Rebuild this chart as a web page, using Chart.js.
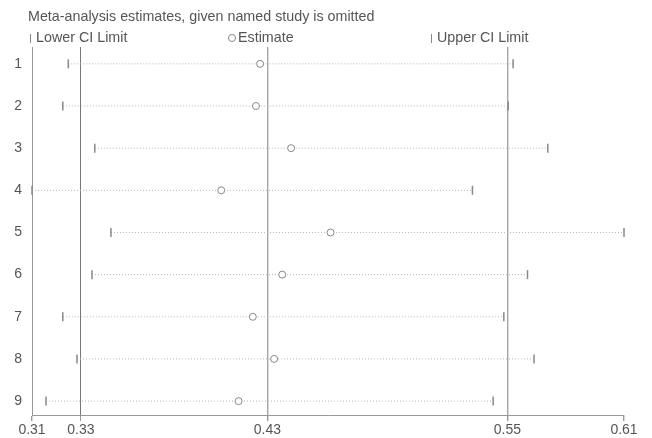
<!DOCTYPE html>
<html>
<head>
<meta charset="utf-8">
<script src="https://cdn.jsdelivr.net/npm/chart.js@4.4.1/dist/chart.umd.min.js"></script>
<style>
  body { margin: 0; background: #fff; }
  #wrap { position: relative; width: 652px; height: 438px; font-family: "Liberation Sans", Arial, sans-serif; color: #555; font-size: 14.3px; }
  #title { position: absolute; left: 28px; top: 8px; white-space: nowrap; }
  .leg { position: absolute; top: 29px; white-space: nowrap; line-height: 16px; }
  .bar { display: inline-block; width: 0; height: 9px; border-left: 1.5px solid #888; margin-right: 5px; vertical-align: -1px; }
  .ring { display: inline-block; width: 6px; height: 6px; border: 1px solid #888; border-radius: 50%; margin-right: 2px; vertical-align: 0px; }
  canvas { position: absolute; left: 0; top: 0; }
</style>
</head>
<body>
<div id="wrap">
  <canvas id="chart" width="652" height="438"></canvas>
  <div id="title">Meta-analysis estimates, given named study is omitted</div>
  <div class="leg" style="left:30px"><span class="bar"></span>Lower CI Limit</div>
  <div class="leg" style="left:228px"><span class="ring"></span>Estimate</div>
  <div class="leg" style="left:431px"><span class="bar"></span>Upper CI Limit</div>
</div>
<script>
// Study omitted (row labels)
const studies = ["1", "2", "3", "4", "5", "6", "7", "8", "9"];
const rows = [1, 2, 3, 4, 5, 6, 7, 8, 9];

// Values
const estimate = [0.4256, 0.4235, 0.4413, 0.4059, 0.4613, 0.4368, 0.4219, 0.4327, 0.4147];
const lowerCI = [0.3284, 0.3256, 0.3418, 0.3100, 0.3500, 0.3404, 0.3256, 0.3328, 0.3171];
const upperCI = [0.5538, 0.5513, 0.5714, 0.5332, 0.6100, 0.5611, 0.5491, 0.5644, 0.5437];

// x axis ticks: min, overall lower CI, overall estimate, overall upper CI, max
const xTicks = [0.31, 0.3348, 0.4293, 0.5509, 0.61];

const markerColor = "#888";
const tickFont = { family: "'Liberation Sans', Arial, sans-serif", size: 14 };

// one dotted line per study, from lower to upper limit
const ciLines = rows.map((r, i) => ({
    data: [{ x: lowerCI[i], y: r }, { x: upperCI[i], y: r }],
    showLine: true,
    borderColor: "#b4b4b4",
    borderWidth: 1,
    borderDash: [1, 2],
    pointRadius: 0,
    clip: false,
    order: 2,
}));

const toPoints = (vals) => vals.map((v, i) => ({ x: v, y: rows[i] }));

const ctx = document.getElementById("chart").getContext("2d");
new Chart(ctx, {
    type: "scatter",
    data: {
        datasets: [
            {
                label: "Lower CI Limit",
                data: toPoints(lowerCI),
                pointStyle: "line",
                rotation: 90,
                pointRadius: 4.5,
                borderColor: markerColor,
                borderWidth: 1.5,
                clip: false,
                order: 1,
            },
            {
                label: "Estimate",
                data: toPoints(estimate),
                pointStyle: "circle",
                pointRadius: 3.5,
                backgroundColor: "#fff",
                borderColor: markerColor,
                borderWidth: 1,
                clip: false,
                order: 1,
            },
            {
                label: "Upper CI Limit",
                data: toPoints(upperCI),
                pointStyle: "line",
                rotation: 90,
                pointRadius: 4.5,
                borderColor: markerColor,
                borderWidth: 1.5,
                clip: false,
                order: 1,
            },
            ...ciLines,
        ],
    },
    options: {
        responsive: false,
        animation: false,
        layout: { padding: { top: 47, right: 28, left: 0, bottom: 0 } },
        plugins: {
            legend: { display: false },
            tooltip: { enabled: false },
        },
        scales: {
            x: {
                type: "linear",
                min: xTicks[0],
                max: xTicks[xTicks.length - 1],
                afterBuildTicks: (scale) => {
                    scale.ticks = xTicks.map((v) => ({ value: v }));
                },
                afterFit: (scale) => { scale.height = 23; },
                grid: {
                    color: (c) => c.index === 1 ? "#777" : (c.index === 2 || c.index === 3) ? "#a6a6a6" : "rgba(0,0,0,0)",
                    lineWidth: (c) => c.index === 1 ? 1 : 1.4,
                    tickColor: "#999",
                    tickLength: 6,
                },
                border: { display: true, color: "#999", width: 1 },
                ticks: {
                    padding: 1,
                    color: "#555",
                    font: tickFont,
                    callback: (v) => Number(v).toFixed(2),
                },
            },
            y: {
                type: "linear",
                reverse: true,
                min: 0.6,
                max: 9.33,
                afterBuildTicks: (scale) => {
                    scale.ticks = rows.map((v) => ({ value: v }));
                },
                afterFit: (scale) => { scale.width = 32; },
                grid: { display: false, drawTicks: false },
                border: { display: true, color: "#999", width: 1 },
                ticks: {
                    padding: 10,
                    color: "#555",
                    font: tickFont,
                    callback: (v) => studies[rows.indexOf(v)],
                },
            },
        },
    },
});
</script>
</body>
</html>
